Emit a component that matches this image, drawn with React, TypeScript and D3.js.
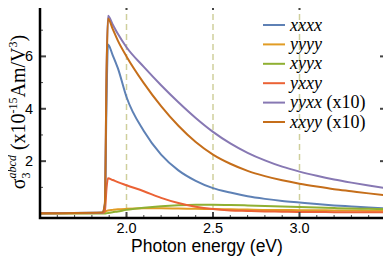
import React, { useEffect, useRef } from "react";
import * as d3 from "d3";

// photon energy grid (eV)
const energy = [1.5, 1.86, 1.875, 1.885, 1.893, 1.92, 1.95, 2.0, 2.1, 2.2, 2.3, 2.4, 2.5, 2.6, 2.7, 2.8, 2.9, 3.0, 3.1, 3.2, 3.3, 3.4, 3.5];

const xxxx = [0.01, 0.03, 0.3, 4.5, 6.45, 6.05, 5.55, 4.45, 3.15, 2.25, 1.65, 1.25, 0.97, 0.8, 0.66, 0.56, 0.48, 0.42, 0.36, 0.31, 0.27, 0.23, 0.2];
const yyyy = [0.01, 0.02, 0.05, 0.1, 0.12, 0.14, 0.16, 0.18, 0.2, 0.2, 0.19, 0.18, 0.17, 0.16, 0.15, 0.14, 0.14, 0.13, 0.13, 0.12, 0.12, 0.11, 0.11];
const xyyx = [0.0, 0.0, 0.0, 0.01, 0.02, 0.05, 0.08, 0.14, 0.22, 0.28, 0.32, 0.34, 0.34, 0.33, 0.31, 0.29, 0.27, 0.25, 0.23, 0.21, 0.19, 0.18, 0.17];
const yxxy = [0.01, 0.02, 0.1, 1.0, 1.35, 1.28, 1.2, 1.08, 0.85, 0.6, 0.4, 0.26, 0.17, 0.12, 0.1, 0.08, 0.07, 0.06, 0.06, 0.05, 0.05, 0.05, 0.05];
const yyxx = [0.01, 0.03, 0.35, 5.6, 7.55, 7.22, 6.86, 6.35, 5.6, 4.9, 4.25, 3.65, 3.12, 2.68, 2.32, 2.03, 1.79, 1.6, 1.44, 1.3, 1.18, 1.07, 0.97];
const xxyy = [0.01, 0.04, 0.4, 5.5, 7.45, 7.05, 6.6, 6.0, 4.98, 4.1, 3.35, 2.73, 2.25, 1.9, 1.63, 1.43, 1.27, 1.14, 1.03, 0.93, 0.85, 0.77, 0.7];

const seriesNames = ["xxxx", "yyyy", "xyyx", "yxxy", "yyxx", "xxyy"];
const seriesSuffix = ["", "", "", "", " (x10)", " (x10)"];
const seriesValues = [xxxx, yyyy, xyyx, yxxy, yyxx, xxyy];
const colors = ["#5e81b5", "#e19c24", "#8fb032", "#eb6235", "#8778b3", "#c56e1a"];

const xTicks = [2.0, 2.5, 3.0];
const yTicks = [2, 4, 6];
const dashedAt = [2.0, 2.5, 3.0];

const App: React.FC = () => {
  const svgRef = useRef<SVGSVGElement | null>(null);

  useEffect(() => {
    const svg = d3.select(svgRef.current);
    svg.selectAll("*").remove();

    const left = 40, right = 386, top = 4, bottom = 218;
    const x = d3.scaleLinear().domain([1.5, 3.5]).range([left, right]);
    const y = d3.scaleLinear().domain([-0.17, 8]).range([bottom, top]);

    const clip = svg.append("clipPath").attr("id", "plotclip");
    clip.append("rect").attr("x", left).attr("y", top).attr("width", right - left).attr("height", bottom - top);

    // dashed guides
    svg
      .selectAll(".guide")
      .data(dashedAt)
      .enter()
      .append("line")
      .attr("x1", (d) => x(d))
      .attr("x2", (d) => x(d))
      .attr("y1", top)
      .attr("y2", bottom)
      .attr("stroke", "#cfcf9c")
      .attr("stroke-width", 1.5)
      .attr("stroke-dasharray", "6,4");

    const line = d3
      .line<number>()
      .x((_, i) => x(energy[i]))
      .y((d) => y(d))
      .curve(d3.curveMonotoneX);

    const g = svg.append("g").attr("clip-path", "url(#plotclip)");
    seriesValues.forEach((vals, i) => {
      g.append("path")
        .attr("d", line(vals) || "")
        .attr("fill", "none")
        .attr("stroke", colors[i])
        .attr("stroke-width", 2);
    });

    // ticks on all four sides
    const minorX = d3.range(16, 35).map((v) => v / 10);
    const minorY = [1, 3, 5, 7];
    const tk = svg.append("g").attr("stroke", "#444").attr("stroke-width", 1);
    minorX.forEach((v) => {
      const major = xTicks.some((t) => Math.abs(t - v) < 1e-6);
      const len = major ? 6 : 3;
      tk.append("line").attr("x1", x(v)).attr("x2", x(v)).attr("y1", bottom).attr("y2", bottom - len).attr("stroke-width", major ? 2 : 1);
      tk.append("line").attr("x1", x(v)).attr("x2", x(v)).attr("y1", top).attr("y2", top + len).attr("stroke-width", major ? 2 : 1);
    });
    [...minorY, ...yTicks].forEach((v) => {
      const major = yTicks.includes(v);
      const len = major ? 6 : 3;
      tk.append("line").attr("y1", y(v)).attr("y2", y(v)).attr("x1", left).attr("x2", left + len).attr("stroke-width", major ? 2 : 1);
      tk.append("line").attr("y1", y(v)).attr("y2", y(v)).attr("x1", right).attr("x2", right - len).attr("stroke-width", major ? 2 : 1);
    });

    // frame
    svg
      .append("rect")
      .attr("x", left)
      .attr("y", top)
      .attr("width", right - left)
      .attr("height", bottom - top)
      .attr("fill", "none")
      .attr("stroke", "#000")
      .attr("stroke-width", 2.5);

    const sans = "'Liberation Sans', Arial, sans-serif";
    svg
      .selectAll(".xl")
      .data(xTicks)
      .enter()
      .append("text")
      .attr("x", (d) => x(d))
      .attr("y", 233)
      .attr("text-anchor", "middle")
      .attr("font-family", sans)
      .attr("font-size", 14.5)
      .text((d) => d.toFixed(1));
    svg
      .selectAll(".yl")
      .data(yTicks)
      .enter()
      .append("text")
      .attr("x", 33)
      .attr("y", (d) => y(d) + 5)
      .attr("text-anchor", "end")
      .attr("font-family", sans)
      .attr("font-size", 14.5)
      .text((d) => d);

    svg
      .append("text")
      .attr("x", 207)
      .attr("y", 251.5)
      .attr("text-anchor", "middle")
      .attr("font-family", sans)
      .attr("font-size", 17.5)
      .text("Photon energy (eV)");

    // y label
    const serif = "'Liberation Serif', 'Times New Roman', serif";
    const yl = svg
      .append("text")
      .attr("transform", "translate(25,112) rotate(-90)")
      .attr("text-anchor", "middle")
      .attr("font-family", serif)
      .attr("font-size", 20);
    yl.append("tspan").text("σ");
    yl.append("tspan").attr("font-size", 12).attr("dy", 5).text("3");
    yl.append("tspan").attr("font-size", 12).attr("font-style", "italic").attr("dx", -6).attr("dy", -14).text("abcd");
    yl.append("tspan").attr("dy", 9).text(" (x10");
    yl.append("tspan").attr("font-size", 12).attr("dy", -8).text("-15");
    yl.append("tspan").attr("dy", 8).text("Am/V");
    yl.append("tspan").attr("font-size", 12).attr("dy", -8).text("3");
    yl.append("tspan").attr("dy", 8).text(")");

    // legend
    const lg = svg.append("g");
    seriesNames.forEach((name, i) => {
      const ly = 25 + i * 19.4;
      lg.append("line").attr("x1", 263).attr("x2", 285).attr("y1", ly).attr("y2", ly).attr("stroke", colors[i]).attr("stroke-width", 2);
      const t = lg.append("text").attr("x", 290).attr("y", ly + 5.5).attr("font-family", serif).attr("font-size", 18);
      t.append("tspan").attr("font-style", "italic").text(name);
      t.append("tspan").text(seriesSuffix[i]);
    });
  }, []);

  return <svg ref={svgRef} width={391} height={256} style={{ display: "block", margin: "-8px 0 0 -8px" }}></svg>;
};

export default App;
